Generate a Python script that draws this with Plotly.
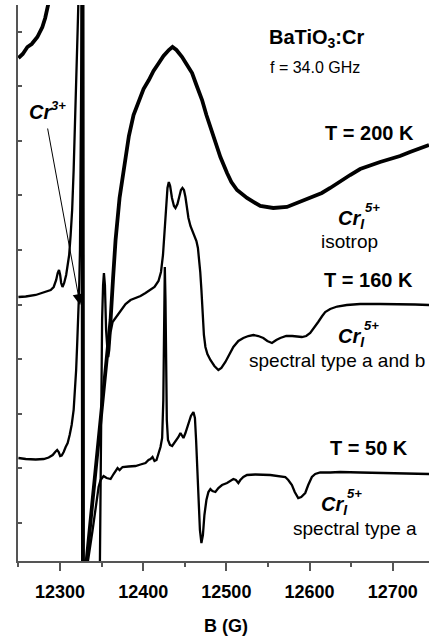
import plotly.graph_objects as go

FONT = "Liberation Sans, Arial, sans-serif"

# ---- data: magnetic field B (G) and EPR signal (arb. units) ----
B_200K = [12250, 12255.2, 12260.8, 12266, 12272.8, 12278.8, 12282.2, 12284.8, 12287, 12291.2,
          12326.6, 12327.8, 12329.6, 12332, 12339.2, 12346.4, 12353.6, 12360.8, 12363.8, 12366.8,
          12371.6, 12376.8, 12382.8, 12388.4, 12394.8, 12400.4, 12406.8, 12412.4, 12418.8, 12424.4,
          12430.8, 12435.2, 12440, 12446.8, 12452, 12458.8, 12464, 12470.8, 12476, 12482.8,
          12488, 12492.8, 12500.8, 12506, 12512.8, 12524.8, 12540.8, 12556.4, 12572.8, 12588.8,
          12604.4, 12614.8, 12624.8, 12636.8, 12648.8, 12660.8, 12672.8, 12684.8, 12696.8, 12708.8,
          12720.8, 12732.8, 12743.6]
I_200K = [503, 507, 514, 517, 524, 534, 543, 551, 561, 601,
          861, -239, -139, 0, 61, 121, 178, 241, 283, 321,
          363, 394, 425, 446, 461, 472, 481, 490, 498, 505,
          511, 514, 511, 504, 497, 488, 476, 461, 446, 428,
          414, 404, 388, 379, 371, 363, 355, 353, 354, 359,
          364, 368, 373, 380, 386, 392, 396, 399, 402, 405,
          409, 413, 416]

B_160K = [12250, 12258.8, 12270.8, 12282.8, 12288.8, 12292.4, 12295.4, 12297.2, 12298.8, 12300.2,
          12301.4, 12303, 12305, 12307.4, 12309.2, 12311, 12312.8, 12314.6, 12316.4, 12318.2,
          12320, 12321.2, 12322, 12323, 12326, 12327.4, 12336.8, 12347.4, 12348, 12349.2,
          12350.6, 12351.8, 12352.8, 12354, 12355.4, 12357.2, 12358, 12359.2, 12360.8, 12363.2,
          12366.8, 12372.8, 12378.8, 12384.8, 12390.8, 12396.8, 12402.8, 12408.8, 12413.6, 12418.4,
          12421.4, 12423.8, 12425.6, 12427.4, 12429.2, 12430.8, 12432.4, 12434.6, 12437, 12438.8,
          12441.2, 12443.6, 12445.4, 12447.2, 12449, 12450.8, 12452.6, 12454.4, 12456.8, 12459.2,
          12461.6, 12464, 12465.8, 12467.2, 12468.6, 12470, 12471.4, 12473, 12474.8, 12477.2,
          12480.8, 12485.6, 12490.4, 12494, 12498.8, 12503.6, 12508.4, 12514.4, 12520.4, 12526.4,
          12532.4, 12538.4, 12544.4, 12549.2, 12554.8, 12560, 12564.8, 12572, 12579.2, 12590.8,
          12596, 12600.8, 12605.6, 12610.4, 12615.2, 12618.8, 12624.8, 12633.2, 12644.8, 12660.8,
          12684.8, 12708.8, 12726.8, 12743.6]
I_160K = [264, 264.5, 266, 269, 271, 274, 281, 288, 291, 286,
          278, 274, 278, 286, 294, 306, 326, 351, 391, 436,
          491, 531, 556, 601, 861, -239, -539, -239, 0, 141,
          241, 276, 288, 276, 231, 209, 204, 211, 229, 239,
          243, 250, 257, 261, 263, 265, 268, 271, 274, 280,
          289, 306, 331, 356, 373, 379, 375, 363, 355, 353,
          357, 365, 371, 373, 371, 364, 353, 343, 335, 330,
          326, 320, 313, 303, 289, 271, 246, 226, 214, 207,
          201, 195, 191, 193, 199, 207, 214, 220, 223, 225,
          226, 225, 223, 220, 218, 221, 223, 225, 225, 224,
          225, 228, 233, 239, 245, 249, 252, 254.5, 256, 257,
          257, 257, 256.5, 256]

B_50K = [12250, 12258.8, 12270.8, 12280.4, 12286.4, 12291.2, 12294.2, 12296.6, 12298.4, 12300.2,
         12302, 12304.4, 12306.8, 12309.2, 12311.6, 12314, 12316.4, 12318.2, 12319.4, 12320.6,
         12321.8, 12323, 12324, 12324.8, 12325.8, 12326.4, 12327, 12327.6, 12328.4, 12330.6,
         12333.6, 12339.2, 12344, 12346.4, 12348.8, 12352.4, 12356, 12360.8, 12364.4, 12369.2,
         12371.6, 12375.2, 12382.4, 12390.8, 12396.8, 12402.8, 12406.4, 12408.8, 12411.2, 12413.6,
         12416, 12418.4, 12420.8, 12422.8, 12424.2, 12425, 12426, 12426.8, 12427.5, 12428.4,
         12429.8, 12432.2, 12434.8, 12437.6, 12440, 12442.4, 12444.8, 12446.6, 12448.4, 12450.8,
         12454.4, 12457.4, 12460.4, 12462.2, 12463.6, 12465.2, 12466.8, 12468.2, 12470, 12471.8,
         12473.6, 12476, 12478.4, 12480.8, 12483.2, 12486.8, 12490.4, 12494.8, 12500.8, 12504.8,
         12508.4, 12511.4, 12514.4, 12516.8, 12520.4, 12524.8, 12534.8, 12552.8, 12564.8, 12570.8,
         12574.4, 12578.8, 12582.2, 12586.4, 12590, 12594.8, 12598.4, 12602.8, 12606.8, 12612.8,
         12624.8, 12636.8, 12660.8, 12692.8, 12720.8, 12743.6]
I_50K = [103, 102, 101.5, 102, 103.5, 106, 109, 111, 109, 105,
         105.5, 109, 114, 118, 126, 136, 151, 171, 191, 216,
         241, 271, 311, 381, 481, 556, 661, 861, -239, -189,
         0, 31, 61, 74, 81, 85, 83, 82, 87, 93,
         91, 94, 94.5, 95, 96.5, 98, 101, 102, 104, 100,
         101, 107, 114, 123, 161, 221, 294, 261, 191, 141,
         121, 116, 115, 118, 121, 124, 128, 125, 123, 128,
         137, 145, 149, 143, 121, 91, 56, 31, 18, 26,
         46, 61, 69, 72, 70, 69, 73, 76, 78, 80,
         82, 81, 78, 81, 84, 86, 86.5, 86, 85, 84,
         81, 76, 69, 63, 64, 68, 76, 84, 87, 88.5,
         88.5, 89, 88.5, 88, 87.5, 87]

X_RANGE = [12249.5, 12743.6]

fig = go.Figure()
for B, I, w in [(B_200K, I_200K, 3.8), (B_160K, I_160K, 2.3), (B_50K, I_50K, 2.3)]:
    fig.add_trace(go.Scatter(x=B, y=I, mode="lines", line=dict(color="black", width=w),
                             hoverinfo="skip", showlegend=False))

AX = "#555555"
fig.update_layout(
    width=429, height=639,
    margin=dict(l=18, r=0, t=5, b=78),
    plot_bgcolor="white", paper_bgcolor="white",
    font=dict(family=FONT, color="black"),
    xaxis=dict(range=X_RANGE, tick0=12300, dtick=100, tickformat="d", ticks="outside", ticklen=8,
               tickwidth=1.5, tickcolor=AX, showline=True, linecolor=AX, linewidth=1.5,
               showgrid=False, zeroline=False, ticklabelstandoff=6,
               tickfont=dict(family=FONT, size=18, color="black", weight="bold"),
               minor=dict(tick0=12250, dtick=50, ticks="outside", ticklen=4,
                          tickwidth=1.5, tickcolor=AX, showgrid=False)),
    xaxis2=dict(range=X_RANGE, overlaying="x", side="top", anchor="y", tick0=12250, dtick=50,
                ticks="inside", ticklen=3, tickwidth=1.5, tickcolor=AX, showline=True,
                linecolor=AX, linewidth=1.5, showgrid=False, zeroline=False,
                showticklabels=False),
    yaxis=dict(range=[0, 556], tick0=38, dtick=54.6, ticks="inside", ticklen=4,
               tickwidth=1.5, tickcolor=AX, showline=True, linecolor=AX, linewidth=1.5,
               showgrid=False, zeroline=False, showticklabels=False),
)

def txt(x, y, text, size, bold=False, italic=False):
    t = text
    if italic:
        t = "<i>" + t + "</i>"
    if bold:
        t = "<b>" + t + "</b>"
    fig.add_annotation(x=x, y=y, xref="x", yref="y", text=t, showarrow=False,
                       font=dict(family=FONT, size=size, color="black"),
                       xanchor="center", yanchor="middle")

txt(12607.8, 523, "BaTiO<sub>3</sub>:Cr", 20, bold=True)
txt(12606.2, 494, "f = 34.0 GHz", 16)
txt(12672.4, 428, "T = 200 K", 20, bold=True)
txt(12670.4, 281, "T = 160 K", 20, bold=True)
txt(12671.0, 113, "T = 50 K", 20, bold=True)

# Cr_I^5+ labels (isotrop / a and b / a)
for (cx, cy), (sx, sy), (lx, ly, lab) in [
    ((12650.5, 342), (12675.5, 354), (12648.4, 320, "isotrop")),
    ((12650.3, 224), (12675.0, 236), (12632.6, 201, "spectral type a and b")),
    ((12629.5, 56), (12654.5, 68), (12654.4, 33, "spectral type a")),
]:
    txt(cx, cy, "Cr<sub>I</sub>", 20, bold=True, italic=True)
    txt(sx, sy, "5+", 13, bold=True, italic=True)
    txt(lx, ly, lab, 19)

# Cr3+ label with arrow
txt(12276.2, 449, "Cr", 20, bold=True, italic=True)
txt(12298.0, 456, "3+", 13, bold=True, italic=True)
fig.add_annotation(x=12324.2, y=256, ax=12284.8, ay=434, xref="x", yref="y",
                   axref="x", ayref="y", text="", showarrow=True,
                   arrowhead=2, arrowsize=2.2, arrowwidth=1, arrowcolor="black")

# axis title
fig.add_annotation(x=12500, y=-0.117, xref="x", yref="paper", text="<b>B (G)</b>",
                   showarrow=False, font=dict(family=FONT, size=18, color="black"),
                   xanchor="center", yanchor="middle")

fig.write_html("out.html", config={"displayModeBar": False},
               post_script="document.body.style.margin='0px';document.body.style.overflow='hidden';")
